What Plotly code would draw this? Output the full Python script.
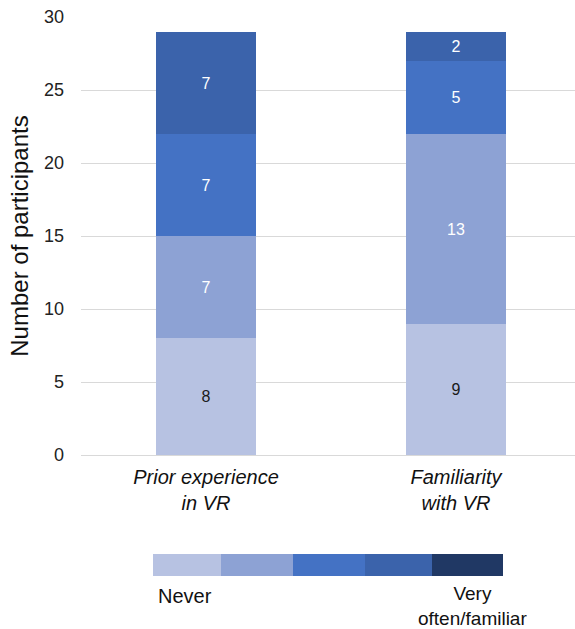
import plotly.graph_objects as go

categories = ["Prior experience<br>in VR", "Familiarity<br>with VR"]
levels = ["Never", "Rarely", "Sometimes", "Often", "Very often/familiar"]
prior_values = [8, 7, 7, 7, 0]
familiarity_values = [9, 13, 5, 2, 0]
colors = ["#B7C2E2", "#8DA2D4", "#4472C4", "#3B63AB", "#203864"]
text_colors = ["#1a1a1a", "white", "white", "white", "white"]

W, H = 575, 629
L, R, T, B = 81, 0, 17, 174
plot_w = W - L - R
plot_h = H - T - B

def px_x(px):
    return (px - L) / plot_w

def px_y(py):
    return (H - B - py) / plot_h

FONT = "Liberation Sans, Arial"

fig = go.Figure()
xs = list(range(len(categories)))
for i, lvl in enumerate(levels):
    vals = [prior_values[i], familiarity_values[i]]
    fig.add_trace(go.Bar(
        x=xs, y=vals, name=lvl,
        marker=dict(color=colors[i], line=dict(width=0)),
        width=0.4,
        text=[str(v) if v else "" for v in vals],
        textposition="inside",
        insidetextanchor="middle",
        textangle=0,
        constraintext="none",
        textfont=dict(color=text_colors[i], size=16, family=FONT),
        showlegend=False,
        hoverinfo="skip",
    ))

# legend color strip
seg_edges = [153, 221, 293, 365, 432, 503]
for i, c in enumerate(colors):
    fig.add_shape(type="rect", xref="paper", yref="paper",
                  x0=px_x(seg_edges[i]), x1=px_x(seg_edges[i + 1]),
                  y0=px_y(576), y1=px_y(554),
                  fillcolor=c, line=dict(width=0))
fig.add_annotation(xref="paper", yref="paper", x=px_x(156), y=px_y(596),
                   text="Never", showarrow=False, xanchor="left", yanchor="middle",
                   font=dict(size=20, color="#111", family=FONT))
fig.add_annotation(xref="paper", yref="paper", x=px_x(472), y=px_y(606),
                   text="Very<br>often/familiar", showarrow=False, xanchor="center",
                   yanchor="middle", align="center",
                   font=dict(size=19, color="#111", family=FONT))

fig.update_layout(
    barmode="stack",
    width=W, height=H,
    margin=dict(l=L, r=R, t=T, b=B),
    plot_bgcolor="white", paper_bgcolor="white",
    font=dict(family=FONT, color="#222"),
    bargap=0,
)
fig.update_xaxes(
    tickvals=xs, ticktext=[f"<i>{c}</i>" for c in categories],
    range=[-0.5, -0.5 + plot_w / 250],
    showgrid=False, zeroline=False, showline=False, ticks="",
    ticklabelstandoff=8,
    tickfont=dict(size=20, color="#111"),
)
fig.update_yaxes(
    range=[0, 30], dtick=5, showgrid=True, gridcolor="#D9D9D9", gridwidth=1,
    zeroline=True, zerolinecolor="#D9D9D9", zerolinewidth=1,
    ticks="", ticklen=0, ticklabelstandoff=16,
    tickfont=dict(size=18, color="#222"),
    title=dict(text="Number of participants", font=dict(size=24, color="#111"), standoff=8),
)
fig.write_html("out.html")
